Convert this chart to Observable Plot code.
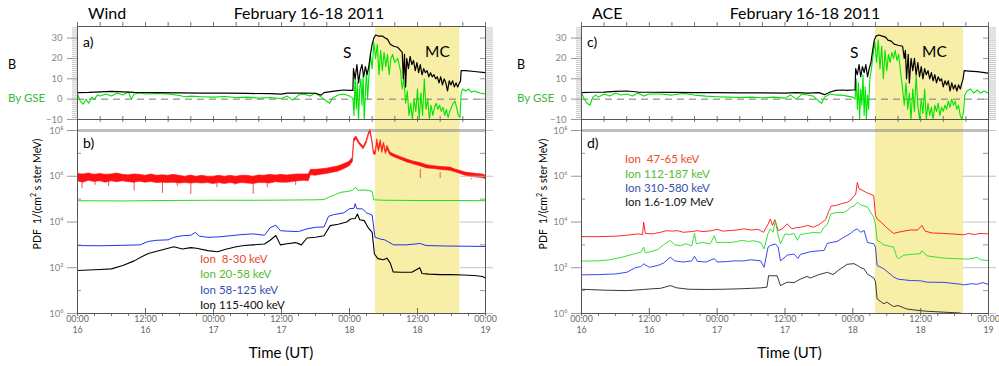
<!DOCTYPE html>
<html><head><meta charset="utf-8">
<script src="https://cdn.jsdelivr.net/npm/d3@7"></script>
<script src="https://cdn.jsdelivr.net/npm/@observablehq/plot@0.6"></script>
<style>
body{margin:0;background:#fff;}
#wrap{position:relative;width:999px;height:366px;overflow:hidden;background:#fff;font-family:Lato,"Open Sans",sans-serif;}
.p{position:absolute;}
.t{position:absolute;white-space:pre;line-height:1;}
</style></head><body><div id="wrap"></div>
<script>
// ---------- time axis (hours since 2011-02-16 00:00 UT) ----------
const timeTicks = [0, 12, 24, 36, 48, 60, 72];
const timeTickLabels = ["00:00","12:00","00:00","12:00","00:00","12:00","00:00"];
const dayTickLabels = ["16","16","17","17","18","18","19"];
const bTicks = [-10, 0, 10, 20, 30];
const bTickLabels = ["\u221210", "0", "10", "20", "30"];
const pdfTicks = [1, 1e2, 1e4, 1e6, 1e8];
const pdfTickLabels = ["10\u2070", "10\u00b2", "10\u2074", "10\u2076", "10\u2078"];
const pdfMinorTicks = [1e1, 1e3, 1e5, 1e7];

// magnetic cloud intervals [start, end] in hours
const windMC = [52.6, 67.5];
const aceMC = [52.0, 67.6];

// ---------- Wind magnetic field (nT) [hour, value] ----------
const windB = [[0,3.2],[2,3.3],[4,3.6],[6,3.8],[8,3.6],[10,3.3],[14,3.2],[18,3.1],[22,3.0],[26,3.0],[30,2.8],[34,2.7],[36,2.5],[37,3.0],[40,3.0],[42,2.9],[43,2.0],[43.5,3.2],[45,3.8],[46,4.2],[47,4.5],[48,4.3],[48.6,4.3],
[48.7,15],[49.0,10],[49.3,17],[49.6,8],[49.9,14],[50.2,17],[50.5,11],[50.8,16],[51.1,12],[51.4,16],[51.7,22],[52.0,27],[52.3,30],[52.6,31.5],[53.2,31],[53.8,31],[54.3,30],[54.7,29.5],[55.2,27],[55.8,26],[56.5,25.5],[57.0,24],[57.3,23],[57.5,10],[57.7,22],[57.9,6],[58.1,20],[58.4,15],[58.7,21],[59.0,17],[59.3,19],[59.6,14],[59.9,18],[60.2,13],[60.5,17],[60.8,12],[61.1,15],[61.4,13],[61.7,14],[62.0,11],[62.3,13],[62.6,11],[62.9,12],[63.2,10],[63.5,11],[63.8,8],[64.1,11],[64.4,7],[64.7,10],[65.0,8],[65.3,4],[65.6,9],[65.9,7],[66.2,9],[66.5,6],[66.8,8],[67.1,6],[67.4,8],[67.6,9],[67.7,14],[68.5,14],[70,13.6],[72,13]];
const windBy = [[0,2.5],[0.5,-1],[1,-2.5],[1.5,0],[2,-2],[2.5,1],[3,0],[3.5,2],[4,1.5],[5,2.5],[6,1.5],[7,3],[8,2],[9,3.5],[9.5,0],[10,2.5],[11,3],[12,2.5],[14,2.8],[16,2.5],[18,1.8],[19,1.2],[20,1.5],[22,1.2],[24,1.0],[26,1.3],[28,0.8],[30,1.0],[32,0.5],[34,0.8],[35,0.5],[36,0.3],[37,1.5],[38,-0.5],[39,2],[40,2.5],[41,1.5],[42,3],[43,1],[44,-1],[44.5,-2],[45,0.5],[46,2],[47,2.5],[48,1.5],[48.6,0.5],
[48.8,-8],[49.0,12],[49.2,-5],[49.4,8],[49.6,-10],[49.8,5],[50.0,10],[50.2,-3],[50.4,12],[50.6,-10],[50.8,3],[51.0,14],[51.2,0],[51.4,10],[51.7,22],[52.0,15],[52.3,28],[52.6,20],[52.9,27],[53.2,12],[53.5,24],[53.8,14],[54.1,23],[54.4,16],[54.7,22],[55.0,12],[55.3,20],[55.6,22],[56.0,18],[56.5,20],[57.0,14],[57.3,5],[57.6,10],[57.9,-2],[58.2,4],[58.5,-8],[58.8,-2],[59.1,-10],[59.4,0],[59.7,-6],[60.0,5],[60.3,-10],[60.6,3],[60.9,-8],[61.2,10],[61.5,-5],[61.8,0],[62.1,-10],[62.4,-3],[62.7,-8],[63.0,-4],[63.3,-2],[63.6,-5],[63.9,-3],[64.2,-6],[64.5,-4],[64.8,-8],[65.1,-5],[65.4,-9],[65.7,-6],[66.0,-4],[66.3,-2],[66.6,-1],[66.9,-4],[67.2,-8],[67.5,-9],[67.7,3],[68,5],[68.5,4],[69,5],[69.5,3.5],[70,4],[71,3],[72,2.5]];

// ---------- ACE magnetic field (nT) ----------
const aceB = [[0,3.2],[2,3.4],[4,3.5],[6,3.8],[8,4.0],[10,3.5],[12,3.4],[16,3.3],[20,3.2],[24,3.2],[28,3.1],[32,3.1],[36,3.0],[38,3.2],[40,3.0],[42,3.2],[43,2.2],[44,3.5],[45,4.3],[46,4.5],[47,4.3],[48,4.5],[48.4,4.5],
[48.5,15],[48.8,12],[49.1,17],[49.4,11],[49.7,16],[50.0,13],[50.3,17],[50.6,11],[50.9,15],[51.2,18],[51.5,24],[51.8,29],[52.1,31],[52.6,31.5],[53.2,31],[53.8,30.5],[54.2,29],[54.8,28.5],[55.3,27],[56,26.5],[56.8,26],[57.1,20],[57.3,24],[57.5,10],[57.8,22],[58.0,8],[58.3,20],[58.6,14],[58.9,20],[59.2,12],[59.5,18],[59.8,11],[60.1,16],[60.4,10],[60.7,15],[61.0,12],[61.3,14],[61.6,10],[61.9,13],[62.2,9],[62.5,12],[62.8,8],[63.1,11],[63.4,9],[63.7,10],[64.0,6],[64.3,9],[64.6,7],[64.9,9],[65.2,4],[65.5,8],[65.8,5],[66.1,7],[66.4,4],[66.7,7],[67.0,5],[67.3,8],[67.5,10],[67.7,14],[68.5,13.8],[70,13.5],[72,12.8]];
const aceBy = [[0,3],[0.5,0],[1,-2],[1.5,-3],[2,1],[2.5,2],[3,1],[4,2.5],[5,1.5],[6,3],[7,2],[8,2.5],[9,1.5],[10,3],[11,1.5],[12,2.5],[14,2.5],[16,2.0],[18,2.8],[20,2],[22,1.5],[24,1.2],[26,1.0],[28,0.8],[30,1.0],[32,0.7],[34,1],[36,0.5],[37,2],[38,0],[39,2.5],[40,2],[41,1.5],[42,-1],[42.5,-2],[43,1],[44,2.5],[45,2],[46,2],[47,1.5],[48,1],[48.4,0],
[48.6,10],[48.8,-5],[49.0,8],[49.2,-10],[49.4,5],[49.6,-3],[49.8,12],[50.0,-8],[50.2,6],[50.4,-10],[50.6,2],[50.8,-5],[51.0,10],[51.3,15],[51.6,22],[51.9,28],[52.2,18],[52.5,29],[52.8,15],[53.1,26],[53.4,10],[53.7,24],[54.0,14],[54.3,22],[54.6,18],[54.9,23],[55.2,20],[55.5,24],[55.8,19],[56.1,22],[56.5,12],[56.8,5],[57.1,-3],[57.4,8],[57.7,-5],[58.0,3],[58.3,-10],[58.6,5],[58.9,-6],[59.2,12],[59.5,-3],[59.8,-10],[60.1,0],[60.4,-7],[60.7,5],[61.0,-10],[61.3,-2],[61.6,-8],[61.9,-4],[62.2,-10],[62.5,-3],[62.8,-6],[63.1,-2],[63.4,-8],[63.7,-4],[64.0,-6],[64.3,-3],[64.6,-5],[64.9,-1],[65.2,-4],[65.5,0],[65.8,-3],[66.1,-1],[66.4,-5],[66.7,-3],[67.0,-8],[67.3,-10],[67.6,-6],[67.8,2],[68.2,4],[68.8,5],[69.4,3],[70,4.5],[70.6,3],[71.2,4],[72,3]];

// ---------- Wind ion fluxes, log10 PDF ----------
// 8-30 keV: [hour, low envelope, high envelope]
const windIon1Exp = [[0,5.78,6.1],[1,5.72,6.08],[2,5.8,6.12],[3,5.75,6.06],[4,5.78,6.1],[5,5.72,6.06],[6,5.78,6.08],[7,5.74,6.12],[8,5.78,6.06],[9,5.74,6.04],[10,5.72,6.08],[11,5.76,6.06],[12,5.72,6.02],[13,5.75,6.08],[14,5.7,6.02],[15,5.72,6.04],[16,5.7,6.02],[17,5.72,6.06],[18,5.68,6.02],[19,5.7,5.98],[20,5.68,6.03],[21,5.7,5.98],[22,5.68,6.02],[23,5.7,5.98],[24,5.66,5.98],[25,5.7,6.02],[26,5.66,5.98],[27,5.7,6.02],[28,5.66,5.98],[29,5.7,6.02],[30,5.68,6.02],[31,5.66,5.98],[32,5.7,6.03],[33,5.7,6.02],[34,5.68,6.06],[35,5.74,6.03],[36,5.72,6.06],[37,5.72,6.03],[38,5.75,6.06],[39,5.78,6.08],[40,5.8,6.08],[40.8,5.78,6.08],[41.2,6.05,6.28],[42,6.02,6.28],[43,6.06,6.3],[44,6.1,6.33],[45,6.15,6.38],[46,6.2,6.43],[47,6.3,6.52],[48,6.43,6.63],[48.6,6.62,6.82],[48.8,7.48,7.62],[49.2,7.62,7.74],[49.8,7.38,7.48],[50.5,7.18,7.28],[51.0,7.42,7.53],[51.4,7.77,7.88],[51.7,7.92,8.02],[52.0,7.52,7.63],[52.3,6.97,7.13],[52.6,6.92,7.04],[52.9,7.42,7.62],[53.2,7.07,7.23],[53.5,7.42,7.58],[53.8,7.02,7.18],[54.1,7.37,7.48],[54.4,6.97,7.08],[54.7,7.17,7.33],[55.2,6.92,7.04],[56,6.82,6.94],[57,6.72,6.84],[58.2,6.6,6.73],[59.3,6.52,6.64],[60.5,6.44,6.58],[61.7,6.34,6.48],[62.9,6.32,6.44],[64.3,6.27,6.4],[65.8,6.24,6.38],[66.7,6.17,6.29],[67.6,6.1,6.23],[68.5,6.02,6.16],[69.5,5.97,6.13],[70.5,5.94,6.1],[71.5,5.92,6.08],[72,5.88,6.03]];
// 8-30 keV downward spikes: [hour, lowest log10 value]
const windIon1Spikes = [[0.8,5.45],[3.1,5.6],[5.5,5.55],[10,5.35],[15,5.25],[17.6,5.55],[20,5.2],[24.6,5.5],[27.8,5.6],[31,5.2],[33.5,5.5],[38.5,5.6],[60.5,6.3],[64,6.15],[69.5,5.85]];
// 20-58 keV
const windIon2Exp = [[0,4.93],[8,4.92],[16,4.94],[24,4.95],[32,4.95],[38,4.96],[42,4.97],[43.5,4.98],[44.5,5.1],[45.5,5.2],[46.5,5.3],[47.5,5.33],[48.5,5.38],[49.1,5.52],[49.5,5.38],[50.5,5.4],[51.5,5.37],[52.0,5.33],[52.3,4.97],[54,4.95],[60,4.94],[66,4.94],[72,4.93]];
// 58-125 keV
const windIon3Exp = [[0,2.97],[4,2.96],[8,2.98],[11,3.0],[12.5,3.15],[14,3.2],[16,3.22],[17,3.33],[18.5,3.4],[20,3.42],[20.8,3.55],[21.5,3.38],[23,3.33],[25,3.35],[27,3.4],[29,3.45],[31,3.48],[33,3.42],[34,3.75],[35,3.86],[35.8,3.62],[37,3.6],[39,3.58],[40.5,3.7],[42,3.77],[43.5,3.78],[44.3,4.25],[45.2,4.32],[47,4.4],[48,4.58],[48.8,4.6],[49.0,4.8],[49.3,4.58],[50.3,4.57],[51.0,4.4],[52.0,4.3],[52.5,3.33],[53.5,3.25],[54.2,3.22],[55.8,3.0],[58,3.0],[60.5,3.06],[61.5,2.97],[65,2.95],[69,2.94],[72,2.93]];
// 115-400 keV
const windIon4Exp = [[0,1.88],[2,1.9],[4,1.92],[6,1.95],[8,2.1],[10,2.3],[11.5,2.5],[12.5,2.62],[14.5,2.75],[16,2.85],[17,2.92],[18.5,2.82],[20,2.88],[21,2.85],[23,2.75],[24.7,2.7],[26,2.8],[28,2.92],[29.4,2.97],[31,3.0],[33,3.04],[34,3.2],[35,3.41],[35.8,3.0],[37,3.05],[38.5,3.1],[39.5,3.0],[40.5,3.3],[42,3.33],[43.5,3.4],[44.6,3.84],[46,3.9],[47.5,4.0],[48.2,4.13],[49.0,4.15],[49.4,4.35],[49.8,4.1],[50.6,4.06],[51.3,3.75],[52.0,3.55],[52.4,2.6],[53,2.4],[54,2.35],[54.6,2.42],[55.2,2.2],[55.7,1.82],[57,1.8],[59,1.8],[60.4,2.0],[60.8,1.75],[62,1.72],[64,1.7],[66,1.7],[68,1.68],[70,1.66],[71.5,1.62],[72,1.55]];

// ---------- ACE ion fluxes, log10 PDF ----------
const aceIon1Exp = [[0,3.36],[3,3.36],[6,3.38],[8,3.42],[10,3.48],[10.8,3.45],[11.0,3.99],[11.3,3.5],[12.5,3.48],[14,3.55],[15,3.62],[16,3.6],[17,3.62],[18,3.55],[19.5,3.58],[20.5,3.62],[21.5,3.58],[23,3.62],[24,3.68],[25,3.6],[26,3.62],[27.5,3.65],[28.7,3.7],[30,3.65],[31.2,3.68],[32.2,3.55],[33.0,3.9],[33.4,4.13],[33.8,3.85],[34.2,4.1],[34.8,3.62],[35.5,3.7],[36.4,3.92],[37.2,3.7],[38,3.75],[39,3.78],[40,3.85],[41,3.77],[42,3.88],[42.6,3.99],[43.2,4.1],[43.8,4.5],[44.2,4.7],[45,4.72],[46,4.8],[47,4.86],[47.6,4.95],[48.2,5.15],[48.5,5.2],[48.8,5.73],[49.1,5.45],[49.6,5.4],[50.3,5.3],[51.0,5.22],[51.7,5.15],[52.0,4.3],[52.3,4.13],[53.0,3.99],[54,3.75],[55.2,3.5],[56,3.55],[57,3.6],[58.2,3.65],[59.5,3.65],[60.2,3.85],[60.8,3.6],[62,3.52],[64,3.5],[66,3.47],[67.6,3.44],[68.5,3.5],[69.5,3.45],[70.5,3.5],[72,3.48]];
const aceIon2Exp = [[0,2.29],[3,2.3],[5,2.35],[7,2.45],[8.5,2.55],[9.5,2.62],[10.5,2.68],[11,2.9],[11.3,2.65],[12.5,2.72],[13.5,2.8],[14.5,3.0],[15.7,3.19],[16.5,3.0],[17.5,2.97],[18.5,3.05],[19.5,2.95],[20,3.5],[20.3,3.05],[21.5,3.1],[22.8,3.05],[23.5,3.4],[23.9,3.1],[25,3.11],[26.5,3.1],[27.5,3.15],[28.5,3.2],[29.5,3.15],[30.5,3.18],[31.7,3.1],[32.3,2.82],[33.0,3.5],[33.4,3.7],[33.9,3.55],[34.3,4.06],[34.8,3.4],[35.2,3.05],[36.0,3.48],[36.8,3.45],[37.6,3.5],[38.2,3.2],[38.7,3.45],[40,3.5],[41,3.55],[42.3,3.52],[42.9,3.77],[43.5,3.9],[44.1,4.35],[45.2,4.42],[46.4,4.42],[47.0,4.5],[47.6,4.64],[48.2,4.7],[48.8,4.86],[49.4,4.75],[50.6,4.65],[51.7,4.2],[52.0,3.9],[52.3,3.2],[52.9,3.11],[53.5,3.0],[55.2,2.9],[55.8,2.45],[56.1,2.4],[57.0,2.55],[58.2,2.58],[59.9,2.61],[60.2,2.75],[61.1,2.52],[64.1,2.42],[67.0,2.39],[67.6,2.38],[68.5,2.38],[70,2.45],[70.6,2.35],[72,2.31]];
const aceIon3Exp = [[0,1.69],[3,1.7],[6,1.73],[8,1.8],[9.5,2.0],[10.5,2.05],[11,2.17],[12,2.02],[13.5,2.1],[14.5,2.2],[15.7,2.46],[16.5,2.3],[18,2.25],[19.5,2.3],[20,2.5],[20.5,2.28],[22,2.25],[23.5,2.4],[24,2.25],[25.8,2.27],[27,2.3],[28.7,2.3],[30,2.35],[31.7,2.3],[32.3,2.02],[33.0,2.9],[33.4,2.97],[34.3,3.04],[34.8,2.9],[35.2,2.3],[36.4,2.55],[37.6,2.6],[38.3,2.4],[38.7,2.58],[40.5,2.7],[42.3,2.75],[42.9,2.75],[43.5,3.07],[45.2,3.15],[46.4,3.33],[47.6,3.5],[48.2,3.63],[48.8,3.7],[49.4,3.55],[50.0,3.63],[50.6,3.1],[51.7,3.05],[52.0,2.9],[52.3,2.1],[53.5,1.95],[55.2,1.6],[56,1.5],[58.2,1.44],[60,1.43],[61.1,1.37],[64.1,1.36],[67.0,1.28],[67.6,1.25],[69,1.3],[70,1.28],[71,1.35],[72,1.27]];
const aceIon4Exp = [[0,1.06],[4,1.02],[8,1.0],[11,1.05],[12.5,1.08],[14,1.1],[15.7,1.22],[16.9,1.12],[19,1.06],[22,1.05],[25,1.06],[28,1.08],[30,1.1],[31.7,1.12],[32.8,1.15],[33.1,1.65],[34.6,1.65],[35.2,1.22],[36.4,1.37],[37.6,1.35],[38.7,1.5],[39.9,1.62],[40.5,1.55],[42,1.7],[43.5,1.8],[44.5,1.7],[45.5,1.9],[47,2.15],[48.2,2.18],[48.8,2.1],[49.4,2.0],[50,1.95],[50.6,1.72],[51.7,1.55],[52.0,1.4],[52.3,0.64],[53.5,0.42],[54,0.5],[55.2,0.3],[56,0.35],[57.5,0.2],[59,0.15],[61,0.1],[64,0.06],[67,0.02],[67.6,-0.05],[69,-0.1],[72,-0.1]];

const windLegend = ["Ion  8-30 keV", "Ion 20-58 keV", "Ion 58-125 keV", "Ion 115-400 keV"];
const aceLegend = ["Ion  47-65 keV", "Ion 112-187 keV", "Ion 310-580 keV", "Ion 1.6-1.09 MeV"];

// ---------- styling ----------
const FONT = "Lato, 'Open Sans', sans-serif";
const SHADE = "#f7eea8";
const C_RED = "#ff1010", C_GREEN = "#22dd22", C_BLUE = "#2233ee", C_BLACK = "#000";
const C_BY = "#00e400";
const LEG_COLORS = ["#ee4a2a", "#55bb33", "#3350b0", "#111"];

const wrap = document.getElementById("wrap");
const TOP_H = 130, TOP_MT = 26, TOP_MB = 11;           // frame 26..119
const BOT_Y = 109, BOT_H = 257, BOT_MT = 10, BOT_MB = 53; // frame 119..313

function place(node, left, top) {
  node.classList.add("p");
  node.style.left = left + "px";
  node.style.top = top + "px";
  wrap.appendChild(node);
}
const X = d => d[0], Y = d => d[1], E = d => 10 ** d[1];

function topPanel(p) {
  const fw = p.fr - p.fl, fh = TOP_H - TOP_MT - TOP_MB;
  const dense = d3.range(-10, 36, 1);
  return Plot.plot({
    width: p.w, height: TOP_H,
    marginLeft: p.fl - p.left, marginRight: p.left + p.w - p.fr, marginTop: TOP_MT, marginBottom: TOP_MB,
    style: {background: "transparent", overflow: "visible", fontFamily: FONT, fontSize: "9.5px"},
    x: {domain: [0, 72], axis: null},
    y: {domain: [-10, 35.7], axis: null},
    marks: [
      Plot.rect([p.mc], {x1: d => d[0], x2: d => d[1], fill: SHADE}),
      Plot.ruleY([0], {stroke: "#777", strokeDasharray: "7,5"}),
      Plot.line(p.by, {x: X, y: Y, stroke: C_BY, strokeWidth: 1.1, clip: true}),
      Plot.line(p.b, {x: X, y: Y, stroke: C_BLACK, strokeWidth: 1.2, clip: true}),
      Plot.tickY(dense, {y: d => d, insetLeft: -5, insetRight: fw, stroke: "#c4c4c4"}),
      Plot.tickY(dense, {y: d => d, insetLeft: fw, insetRight: -8, stroke: "#c4c4c4"}),
      Plot.tickY(bTicks, {y: d => d, insetLeft: -10, insetRight: fw, stroke: "#999"}),
      Plot.tickY(bTicks, {y: d => d, insetLeft: fw - 5, insetRight: 0, stroke: "#999"}),
      Plot.text(bTicks, {y: d => d, text: (d, i) => bTickLabels[i], frameAnchor: "left", dx: -15, textAnchor: "end", fill: "#888", fontSize: 9.5}),
      Plot.tickX(d3.range(0, 73, 4), {x: d => d, insetTop: -4, insetBottom: fh, stroke: "#777"}),
      Plot.tickX(d3.range(0, 73, 4), {x: d => d, insetTop: fh - 3, insetBottom: 0, stroke: "#777"}),
      Plot.frame({stroke: "#555"})
    ]
  });
}

function botPanel(p) {
  const fw = p.fr - p.fl, fh = BOT_H - BOT_MT - BOT_MB;
  const marks = [
    Plot.rect([p.mc], {x1: d => d[0], x2: d => d[1], fill: SHADE}),
    Plot.ruleY([1e8], {stroke: "#888", strokeWidth: 3, strokeOpacity: 0.55})
  ];
  marks.push(...p.series);
  marks.push(
    Plot.tickY(pdfTicks, {y: d => d, insetLeft: -10, insetRight: fw, stroke: "#999"}),
    Plot.tickY(pdfMinorTicks, {y: d => d, insetLeft: 0, insetRight: fw - 4, stroke: "#999"}),
    Plot.tickY(pdfTicks, {y: d => d, insetLeft: fw - 25, insetRight: -8, stroke: "#bbb", strokeOpacity: 0.9}),
    Plot.tickY(pdfMinorTicks, {y: d => d, insetLeft: fw - 5, insetRight: 0, stroke: "#999"}),
    Plot.text(pdfTicks, {y: d => d, text: (d, i) => pdfTickLabels[i], frameAnchor: "left", dx: -14, textAnchor: "end", fill: "#888", fontSize: 9.5}),
    Plot.tickX(d3.range(0, 73, 4), {x: d => d, insetTop: 0, insetBottom: fh - 3, stroke: "#777"}),
    Plot.tickX(timeTicks, {x: d => d, insetTop: fh - 5, insetBottom: 0, stroke: "#666"}),
    Plot.tickX(d3.range(0, 73, 3), {x: d => d, insetTop: fh, insetBottom: -3, stroke: "#777"}),
    Plot.text(timeTicks, {x: d => d, text: (d, i) => timeTickLabels[i], frameAnchor: "bottom", dy: 8, fill: "#666", fontSize: 8.8}),
    Plot.text(timeTicks, {x: d => d, text: (d, i) => dayTickLabels[i], frameAnchor: "bottom", dy: 19, fill: "#666", fontSize: 8.8}),
    Plot.frame({stroke: "#555"})
  );
  return Plot.plot({
    width: p.w, height: BOT_H,
    marginLeft: p.fl - p.left, marginRight: p.left + p.w - p.fr, marginTop: BOT_MT, marginBottom: BOT_MB,
    style: {background: "transparent", overflow: "visible", fontFamily: FONT, fontSize: "9.5px"},
    x: {domain: [0, 72], axis: null},
    y: {type: "log", domain: [1, 10 ** 8.48], axis: null},
    marks
  });
}

const L = {left: 0, w: 500, fl: 77, fr: 485};
const R = {left: 500, w: 499, fl: 581, fr: 988};

place(topPanel({...L, b: windB, by: windBy, mc: windMC}), L.left, 0);
place(topPanel({...R, b: aceB, by: aceBy, mc: aceMC}), R.left, 0);

place(botPanel({...L, mc: windMC, series: [
  Plot.ruleX(windIon1Spikes, {x: X, y1: E, y2: 10 ** 5.9, stroke: "#ff5050", strokeWidth: 1, clip: true}),
  Plot.areaY(windIon1Exp, {x: X, y1: d => 10 ** d[1], y2: d => 10 ** d[2], fill: C_RED, stroke: C_RED, strokeWidth: 0.6, clip: true}),
  Plot.line(windIon2Exp, {x: X, y: E, stroke: C_GREEN, strokeWidth: 1, clip: true}),
  Plot.line(windIon3Exp, {x: X, y: E, stroke: C_BLUE, strokeWidth: 1, clip: true}),
  Plot.line(windIon4Exp, {x: X, y: E, stroke: C_BLACK, strokeWidth: 1.1, clip: true})
]}), L.left, BOT_Y);

place(botPanel({...R, mc: aceMC, series: [
  Plot.line(aceIon1Exp, {x: X, y: E, stroke: C_RED, strokeWidth: 0.9, clip: true}),
  Plot.line(aceIon2Exp, {x: X, y: E, stroke: C_GREEN, strokeWidth: 0.9, clip: true}),
  Plot.line(aceIon3Exp, {x: X, y: E, stroke: C_BLUE, strokeWidth: 0.9, clip: true}),
  Plot.line(aceIon4Exp, {x: X, y: E, stroke: "#222", strokeWidth: 0.9, clip: true})
]}), R.left, BOT_Y);

// ---------- text ----------
function txt(str, x, y, {size = 12, color = "#000", anchor = "start", rotate = 0, html = false} = {}) {
  const d = document.createElement("div");
  d.className = "t";
  if (html) d.innerHTML = str; else d.textContent = str;
  d.style.left = x + "px";
  d.style.top = y + "px";
  d.style.fontSize = size + "px";
  d.style.color = color;
  const tx = anchor === "middle" ? "-50%" : anchor === "end" ? "-100%" : "0";
  d.style.transform = `translate(${tx},-50%)`;
  if (rotate) { d.style.transformOrigin = "center center"; d.style.transform = `translate(-50%,-50%) rotate(${rotate}deg)`; }
  wrap.appendChild(d);
}
function panelText(o) {
  txt(o.name, o.nameX, 12.5, {size: 16});
  txt("February 16-18 2011", o.titleX, 12.5, {size: 16, anchor: "middle"});
  txt("B", o.axX, 65, {size: 12.5});
  txt("By GSE", o.axX, 97.5, {size: 11.5, color: "#3db83d"});
  txt(o.l1, o.lx, 42, {size: 14});
  txt(o.l2, o.lx, 142.5, {size: 14});
  txt("S", o.sX, 52.5, {size: 15.5});
  txt("MC", o.mcX, 52, {size: 15.5});
  txt("PDF  1/(cm<sup style='font-size:7px'>2</sup> s ster MeV)", o.pdfX, 194, {size: 10.5, anchor: "middle", rotate: -90, html: true});
  o.legend.forEach((s, i) => txt(s, o.legX, o.legY[i], {size: 11.5, color: LEG_COLORS[i]}));
  txt("Time (UT)", o.timeX, 351.5, {size: 15, anchor: "middle"});
}
panelText({name: "Wind", nameX: 88, titleX: 309, axX: 8, l1: "a)", l2: "b)", lx: 83, sX: 343, mcX: 425, pdfX: 36, legend: windLegend, legX: 200, legY: [258.5, 274, 290, 305], timeX: 281});
panelText({name: "ACE", nameX: 592, titleX: 805, axX: 517, l1: "c)", l2: "d)", lx: 587, sX: 850, mcX: 922, pdfX: 542, legend: aceLegend, legX: 625, legY: [159, 174, 188, 202], timeX: 789.5});
</script>
</body></html>
